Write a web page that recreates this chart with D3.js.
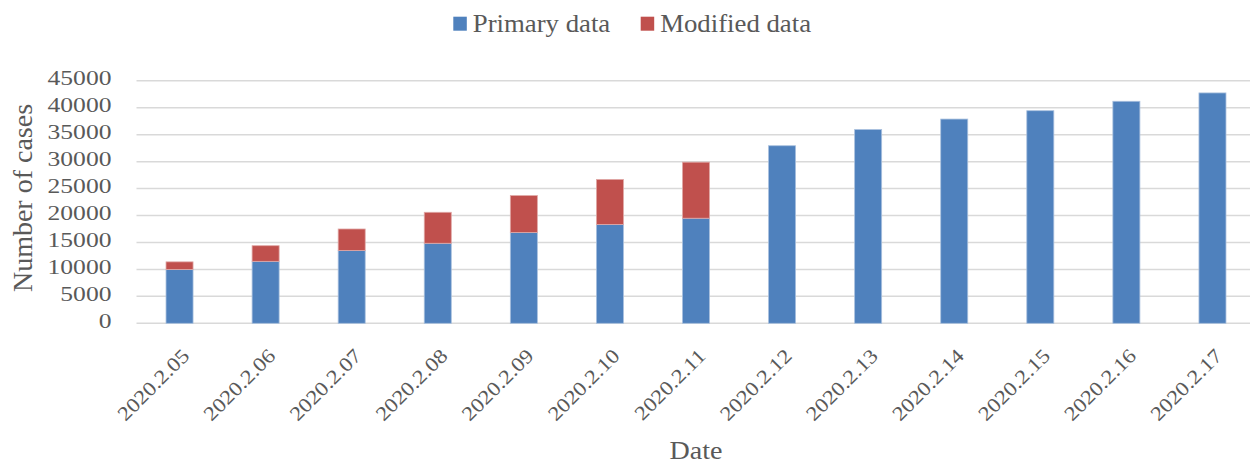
<!DOCTYPE html>
<html>
<head>
<meta charset="utf-8">
<script src="https://cdn.jsdelivr.net/npm/d3@7"></script>
<style>
  html, body { margin: 0; padding: 0; background: #fff; }
  svg { display: block; }
  text { font-family: "Liberation Serif", "Times New Roman", serif; fill: #595959; }
</style>
</head>
<body>
<svg id="chart" width="1252" height="463"></svg>
<script>
// Daily case counts: primary series plus the modified increment stacked on top
const dates = ["2020.2.05", "2020.2.06", "2020.2.07", "2020.2.08", "2020.2.09", "2020.2.10",
               "2020.2.11", "2020.2.12", "2020.2.13", "2020.2.14", "2020.2.15", "2020.2.16", "2020.2.17"];
const primaryData  = [10000, 11500, 13500, 14850, 16850, 18350, 19500, 32950, 35950, 37900, 39450, 41200, 42750];
const modifiedData = [1400, 2900, 4000, 5750, 6850, 8350, 10400, 0, 0, 0, 0, 0, 0];
const seriesNames = ["Primary data", "Modified data"];
const yTicks = [0, 5000, 10000, 15000, 20000, 25000, 30000, 35000, 40000, 45000];

const colors = { "Primary data": "#4f81bd", "Modified data": "#c0504d" };
const edge   = { "Primary data": "#a9c0de", "Modified data": "#e0a8a6" };

const svg = d3.select("#chart");

const plot = { left: 136.5, right: 1255.5, top: 80.8, bottom: 323.3 };

const x = d3.scaleBand()
  .domain(dates)
  .range([plot.left, plot.right])
  .paddingInner(0.686)
  .paddingOuter(0.343);

const y = d3.scaleLinear()
  .domain([0, 45000])
  .range([plot.bottom, plot.top]);

// Horizontal gridlines
svg.append("g")
  .selectAll("line")
  .data(yTicks)
  .join("line")
  .attr("x1", plot.left)
  .attr("x2", 1250)
  .attr("y1", d => y(d))
  .attr("y2", d => y(d))
  .attr("stroke", "#d9d9d9")
  .attr("stroke-width", 1.5);

// Y tick labels (wide serif digits)
svg.append("g")
  .selectAll("text")
  .data(yTicks)
  .join("text")
  .attr("transform", d => `translate(111.5,${y(d) + 4.5}) scale(1.28,1)`)
  .attr("text-anchor", "end")
  .attr("font-size", 20)
  .text(d => d);

// Stacked bars
const rows = dates.map((d, i) => ({ date: d, "Primary data": primaryData[i], "Modified data": modifiedData[i] }));
const stacked = d3.stack().keys(seriesNames)(rows);

svg.append("g")
  .selectAll("g")
  .data(stacked)
  .join("g")
  .attr("fill", s => colors[s.key])
  .attr("stroke", s => edge[s.key])
  .attr("stroke-width", 0.8)
  .selectAll("rect")
  .data(s => s.filter(p => p[1] - p[0] > 0))
  .join("rect")
  .attr("x", p => x(p.data.date))
  .attr("width", x.bandwidth())
  .attr("y", p => y(p[1]))
  .attr("height", p => y(p[0]) - y(p[1]));

// X tick labels, rotated
svg.append("g")
  .selectAll("text")
  .data(dates)
  .join("text")
  .attr("transform", d => `translate(${x(d) + x.bandwidth() / 2 + 11},357) rotate(-45) scale(1.15,1)`)
  .attr("text-anchor", "end")
  .attr("font-size", 20)
  .text(d => d);

// Axis titles
svg.append("text")
  .attr("transform", "translate(31.5,198) rotate(-90)")
  .attr("text-anchor", "middle")
  .attr("font-size", 28)
  .text("Number of cases");

svg.append("text")
  .attr("transform", "translate(696,458.5) scale(1.08,1)")
  .attr("text-anchor", "middle")
  .attr("font-size", 26)
  .text("Date");

// Legend
const legendItems = [
  { name: "Primary data", sx: 453.3 },
  { name: "Modified data", sx: 640.7 }
];
const lg = svg.append("g")
  .selectAll("g")
  .data(legendItems)
  .join("g");
lg.append("rect")
  .attr("x", d => d.sx)
  .attr("y", 16.7)
  .attr("width", 13.5)
  .attr("height", 14)
  .attr("fill", d => colors[d.name]);
lg.append("text")
  .attr("transform", d => `translate(${d.sx + 19.5},31.5) scale(1.05,1)`)
  .attr("font-size", 25.5)
  .text(d => d.name);
</script>
</body>
</html>
